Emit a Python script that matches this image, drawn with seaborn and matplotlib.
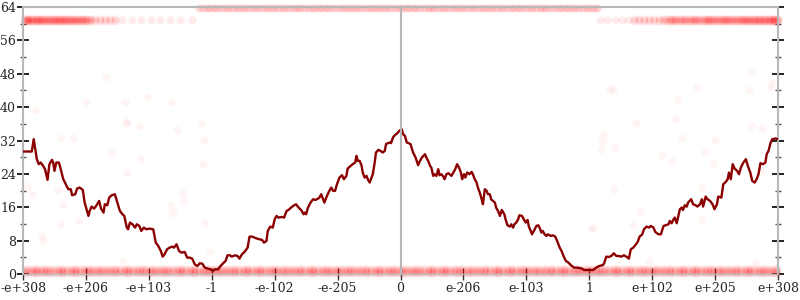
import matplotlib
matplotlib.use("Agg")
import matplotlib.pyplot as plt
from matplotlib.ticker import MultipleLocator
import seaborn as sns

sns.set_style("white")
plt.rcParams['font.family'] = ['DejaVu Serif']

# ---------------- data ----------------
tick_pos = [-6, -5, -4, -3, -2, -1, 0, 1, 2, 3, 4, 5, 6]
tick_labels = ["-e+308", "-e+206", "-e+103", "-1", "-e-102", "-e-205", "0",
               "e-206", "e-103", "1", "e+102", "e+205", "e+308"]

line_x = [
    -6.00, -5.86, -5.83, -5.78, -5.75, -5.72, -5.68, -5.65, -5.61, -5.58, -5.54, -5.52, -5.50, -5.47,
    -5.43, -5.40, -5.36, -5.32, -5.28, -5.24, -5.22, -5.17, -5.14, -5.10, -5.05, -5.02, -4.96, -4.94,
    -4.91, -4.87, -4.83, -4.79, -4.76, -4.72, -4.70, -4.66, -4.63, -4.59, -4.54, -4.50, -4.46, -4.42,
    -4.39, -4.35, -4.33, -4.30, -4.26, -4.22, -4.19, -4.15, -4.12, -4.08, -4.04, -3.99, -3.93, -3.89,
    -3.85, -3.81, -3.78, -3.75, -3.71, -3.67, -3.63, -3.60, -3.56, -3.52, -3.48, -3.43, -3.39, -3.35,
    -3.31, -3.27, -3.23, -3.19, -3.15, -3.11, -3.06, -3.02, -2.98, -2.95,
    -2.90, -2.86, -2.82, -2.78, -2.75, -2.71, -2.68, -2.63, -2.59, -2.56, -2.52, -2.48, -2.43, -2.40,
    -2.36, -2.32, -2.28, -2.24, -2.20, -2.17, -2.13, -2.11, -2.07, -2.03, -2.00, -1.97, -1.94, -1.89,
    -1.85, -1.81, -1.78, -1.74, -1.69, -1.66, -1.62, -1.58, -1.54, -1.52, -1.50, -1.47, -1.43, -1.39,
    -1.35, -1.31, -1.29, -1.26, -1.23, -1.21, -1.18, -1.14, -1.10, -1.07, -1.04, -1.01, -0.97, -0.93,
    -0.90, -0.86, -0.84, -0.79, -0.76, -0.72, -0.70, -0.68, -0.65, -0.62, -0.60, -0.57, -0.54, -0.52,
    -0.49, -0.47, -0.44, -0.41, -0.39, -0.35, -0.32, -0.28, -0.25, -0.23, -0.20, -0.17, -0.15, -0.12,
    -0.10, -0.07, -0.04, -0.02,
    0.02, 0.04, 0.07, 0.10, 0.13, 0.16, 0.20, 0.24, 0.28, 0.31, 0.34, 0.39, 0.41, 0.44, 0.47, 0.49,
    0.52, 0.54, 0.57, 0.60, 0.62, 0.65, 0.68, 0.70, 0.73, 0.76, 0.78, 0.81, 0.84, 0.87, 0.90, 0.93,
    0.96, 0.98, 1.01, 1.03, 1.06, 1.10, 1.13, 1.15, 1.18, 1.21, 1.23, 1.26, 1.29, 1.31, 1.34, 1.37,
    1.39, 1.42, 1.44, 1.47, 1.50, 1.52, 1.55, 1.58, 1.61, 1.65, 1.67, 1.70, 1.74, 1.76, 1.79, 1.81,
    1.84, 1.87, 1.89, 1.93, 1.96, 1.99, 2.02, 2.04, 2.07, 2.09, 2.12, 2.16, 2.19, 2.21, 2.24, 2.26,
    2.29, 2.32, 2.34, 2.39, 2.42, 2.46, 2.49, 2.53, 2.56, 2.58, 2.61, 2.63, 2.67, 2.71, 2.76, 2.81,
    2.87, 2.92, 2.97, 3.01,
    3.06, 3.11, 3.16, 3.22, 3.24, 3.27, 3.31, 3.35, 3.39, 3.43, 3.47, 3.51, 3.55, 3.59, 3.63, 3.66,
    3.70, 3.73, 3.77, 3.80, 3.84, 3.87, 3.91, 3.95, 3.98, 4.02, 4.05, 4.10, 4.14, 4.18, 4.21, 4.26,
    4.28, 4.31, 4.34, 4.36, 4.39, 4.41, 4.44, 4.47, 4.49, 4.52, 4.55, 4.57, 4.62, 4.65, 4.69, 4.72,
    4.76, 4.79, 4.81, 4.85, 4.88, 4.92, 4.96, 4.99, 5.03, 5.05, 5.10, 5.13, 5.17, 5.20, 5.22, 5.25,
    5.28, 5.31, 5.35, 5.38, 5.41, 5.45, 5.49, 5.52, 5.56, 5.59, 5.63, 5.66, 5.69, 5.72, 5.76, 5.80,
    5.82, 5.85, 5.88, 5.91, 5.96, 6.00,
]
line_y = [
    29.36, 29.36, 32.32, 27.52, 26.32, 26.72, 25.92, 25.12, 22.56, 26.32, 27.36, 26.72, 24.72, 26.72,
    26.72, 25.12, 22.72, 21.52, 20.32, 20.32, 18.88, 19.12, 20.48, 20.72, 20.16, 17.12, 13.92, 15.12,
    16.16, 15.68, 16.48, 17.52, 15.68, 14.72, 16.72, 16.48, 18.32, 18.88, 19.12, 17.12, 15.12, 14.32,
    13.92, 11.12, 10.72, 12.32, 11.92, 11.12, 11.92, 11.52, 10.32, 11.12, 10.72, 10.88, 10.72, 7.52,
    6.72, 5.52, 4.16, 4.72, 5.92, 6.32, 6.56, 6.32, 7.12, 5.52, 5.12, 5.28, 3.92, 3.92,
    3.68, 2.32, 1.92, 2.56, 2.48, 1.52, 1.28, 1.12, 0.72, 1.12,
    1.12, 1.92, 2.56, 3.12, 4.48, 4.48, 4.16, 4.48, 4.32, 3.68, 4.72, 5.28, 6.32, 8.96,
    8.96, 8.72, 8.48, 8.32, 8.16, 7.52, 7.92, 10.32, 11.36, 11.12, 13.12, 13.92, 13.52, 13.68,
    13.52, 15.12, 15.36, 15.92, 16.48, 16.72, 15.92, 15.36, 14.32, 14.72, 14.32, 15.92, 17.12, 17.92,
    17.76, 18.08, 18.32, 19.12, 17.92, 17.12, 18.32, 19.68, 20.72, 19.92, 19.92, 21.52, 23.12, 23.68,
    22.72, 23.52, 25.28, 25.92, 26.32, 26.72, 28.32, 27.12, 27.12, 26.08, 24.32, 23.12, 23.52, 22.72,
    21.92, 22.72, 23.92, 26.72, 29.12, 29.76, 29.52, 29.12, 29.52, 31.12, 31.36, 31.52, 31.36, 32.72,
    33.12, 33.52, 33.92, 34.32,
    34.72, 33.52, 33.12, 31.52, 31.36, 31.12, 29.12, 27.92, 26.08, 27.12, 27.92, 28.72, 27.92, 27.12, 25.92, 25.52,
    23.52, 23.92, 23.52, 25.12, 23.68, 23.92, 23.36, 22.72, 23.92, 24.16, 23.92, 23.52, 24.32, 25.12, 26.32, 25.52,
    24.32, 22.72, 23.92, 23.12, 24.32, 23.92, 24.48, 23.92, 22.72, 21.92, 20.72, 19.52, 17.92, 16.72, 20.32, 19.92,
    19.12, 19.12, 17.92, 17.52, 17.12, 15.92, 15.12, 13.92, 15.36, 14.32, 13.12, 11.68, 11.36, 11.92, 11.12, 11.92,
    12.32, 13.12, 14.08, 13.92, 13.12, 12.32, 12.96, 11.36, 10.32, 9.52, 10.32, 11.52, 11.68, 11.12, 9.92, 10.32,
    9.52, 9.12, 9.52, 9.12, 9.28, 8.96, 7.92, 6.32, 5.52, 4.72, 3.68, 3.12, 2.72, 2.08, 1.52, 1.52,
    1.36, 0.96, 0.96, 0.96,
    0.96, 1.52, 1.92, 2.16, 2.72, 4.16, 4.08, 4.32, 4.96, 4.32, 4.32, 4.16, 4.48, 4.16, 3.68, 5.92,
    6.32, 6.88, 7.68, 8.96, 9.44, 10.72, 11.36, 11.12, 11.52, 11.12, 10.08, 9.52, 9.52, 11.52, 11.68, 11.92,
    12.72, 12.16, 13.12, 13.52, 12.16, 13.52, 15.52, 15.92, 15.36, 16.48, 16.16, 17.12, 17.92, 16.72, 16.48, 16.16,
    16.72, 17.92, 16.16, 18.56, 17.92, 17.52, 16.72, 15.52, 16.72, 18.56, 18.32, 21.52, 22.08, 22.72, 24.32, 22.72,
    26.32, 25.28, 24.72, 23.92, 25.52, 26.72, 27.52, 25.92, 24.32, 22.32, 21.92, 22.72, 23.92, 26.56, 26.32, 26.72,
    28.72, 29.52, 31.36, 32.32, 32.48, 32.32,
]

# dense translucent bands of points
bottom_low_x = [
    -5.97, -5.86, -5.78, -5.66, -5.57, -5.45, -5.36, -5.24, -5.15, -5.03, -4.94, -4.82, -4.73, -4.61,
    -4.52, -4.40, -4.31, -4.19, -4.10, -3.98, -3.89, -3.77, -3.68, -3.56, -3.47, -3.35, -3.26, -3.14,
    -3.05, -2.93, -2.84, -2.72, -2.63, -2.51, -2.42, -2.30, -2.21, -2.09, -2.00, -1.88, -1.79, -1.67,
    -1.58, -1.46, -1.37, -1.25, -1.16, -1.04, -0.95, -0.83, -0.74, -0.62, -0.53, -0.41, -0.32, -0.20,
    -0.11, 0.01, 0.10, 0.22, 0.31, 0.43, 0.52, 0.64, 0.73, 0.85, 0.94, 1.06, 1.15, 1.27, 1.36, 1.48,
    1.57, 1.69, 1.78, 1.90, 1.99, 2.11, 2.20, 2.32, 2.41, 2.53, 2.62, 2.74, 2.83, 2.95, 3.04, 3.16,
    3.25, 3.37, 3.46, 3.58, 3.67, 3.79, 3.88, 4.00, 4.09, 4.21, 4.30, 4.42, 4.51, 4.63, 4.72, 4.84,
    4.93, 5.05, 5.14, 5.26, 5.35, 5.47, 5.56, 5.68, 5.77, 5.89, 5.98,
]
bottom_high_x = [
    -5.92, -5.81, -5.71, -5.62, -5.50, -5.40, -5.30, -5.19, -5.09, -4.98, -4.88, -4.77, -4.67, -4.56,
    -4.46, -4.35, -4.25, -4.14, -4.04, -3.93, -3.83, -3.72, -3.62, -3.51, -3.41, -3.30, -3.20, -3.09,
    -2.99, -2.88, -2.78, -2.67, -2.57, -2.46, -2.36, -2.25, -2.15, -2.04, -1.94, -1.83, -1.73, -1.62,
    -1.52, -1.41, -1.31, -1.20, -1.10, -0.99, -0.89, -0.78, -0.68, -0.57, -0.47, -0.36, -0.26, -0.15,
    -0.05, 0.06, 0.16, 0.27, 0.37, 0.48, 0.58, 0.69, 0.79, 0.90, 1.00, 1.11, 1.21, 1.32, 1.42, 1.53,
    1.63, 1.74, 1.84, 1.95, 2.05, 2.16, 2.26, 2.37, 2.47, 2.58, 2.68, 2.79, 2.89, 3.00, 3.10, 3.21,
    3.31, 3.42, 3.52, 3.63, 3.73, 3.84, 3.94, 4.05, 4.15, 4.26, 4.36, 4.47, 4.57, 4.68, 4.78, 4.89,
    4.99, 5.10, 5.20, 5.31, 5.41, 5.52, 5.62, 5.73, 5.83, 5.94,
]
bottom_rows_y = [0.25, 0.75, 1.25]

top_left_x = [
    -5.98, -5.94, -5.90, -5.85, -5.80, -5.76, -5.71, -5.66, -5.61, -5.56, -5.51, -5.46, -5.41, -5.36,
    -5.31, -5.26, -5.21, -5.16, -5.10, -5.04, -4.98, -4.92, -4.85, -4.78, -4.70, -4.62, -4.53,
]
top_left_x2 = [
    -5.96, -5.92, -5.87, -5.83, -5.78, -5.73, -5.68, -5.63, -5.58, -5.53, -5.48, -5.43, -5.38, -5.33,
    -5.28, -5.23, -5.18, -5.13, -5.07, -5.01, -4.95,
]
top_left_sparse_x = [-4.42, -4.27, -4.12, -3.97, -3.82, -3.66, -3.50, -3.32]
top_right_x = [
    3.71, 3.79, 3.87, 3.95, 4.03, 4.11, 4.18, 4.26, 4.33, 4.40, 4.47, 4.54, 4.61, 4.68, 4.75, 4.82,
    4.88, 4.94, 5.00, 5.06, 5.12, 5.18, 5.24, 5.30, 5.36, 5.42, 5.48, 5.53, 5.59, 5.64, 5.70, 5.75,
    5.80, 5.85, 5.90, 5.94, 5.98,
]
top_right_x2 = [
    4.22, 4.30, 4.37, 4.44, 4.51, 4.58, 4.65, 4.72, 4.79, 4.85, 4.91, 4.97, 5.03, 5.09, 5.15, 5.21,
    5.27, 5.33, 5.39, 5.45, 5.51, 5.56, 5.62, 5.67, 5.72, 5.77, 5.82, 5.87, 5.92, 5.96, 6.00,
]
top_right_sparse_x = [3.17, 3.29, 3.41, 3.52, 3.62]
top_side_rows_y = [60.6, 61.1]
top_side_sparse_y = 60.9

top_mid_x = [
    -3.20, -3.08, -2.97, -2.85, -2.74, -2.62, -2.51, -2.39, -2.28, -2.16, -2.05, -1.93, -1.82, -1.70,
    -1.59, -1.47, -1.36, -1.24, -1.13, -1.01, -0.90, -0.78, -0.67, -0.55, -0.44, -0.32, -0.21, -0.09,
    0.02, 0.14, 0.25, 0.37, 0.48, 0.60, 0.71, 0.83, 0.94, 1.06, 1.17, 1.29, 1.40, 1.52, 1.63, 1.75,
    1.86, 1.98, 2.09, 2.21, 2.32, 2.44, 2.55, 2.67, 2.78, 2.90, 3.01, 3.13,
]
top_mid_x2 = [
    -3.14, -3.02, -2.91, -2.79, -2.68, -2.56, -2.45, -2.33, -2.22, -2.10, -1.99, -1.87, -1.76, -1.64,
    -1.53, -1.41, -1.30, -1.18, -1.07, -0.95, -0.84, -0.72, -0.61, -0.49, -0.38, -0.26, -0.15, -0.03,
    0.08, 0.20, 0.31, 0.43, 0.54, 0.66, 0.77, 0.89, 1.00, 1.12, 1.23, 1.35, 1.46, 1.58, 1.69, 1.81,
    1.92, 2.04, 2.15, 2.27, 2.38, 2.50, 2.61, 2.73, 2.84, 2.96, 3.07,
]
top_mid_y = 63.7

# faint scattered points
faint_x = [-4.35, -4.14, -3.15, -3.56, -5.39, -5.21, -3.13, -4.59, -4.12, -3.14, -4.34, -5.94, -5.86,
           -5.44, -3.45, -3.44, -3.64, -3.61, -5.37, -5.11, -5.39, -3.11, -5.70, -5.69, -3.03, -4.41,
           3.74, 4.36, 3.24, 3.20, 3.19, 3.41, 4.16, 4.31, 4.47, 5.00, 4.84, 4.97, 5.59, 5.74, 5.74,
           3.39, 4.79, 3.80, 4.79, 3.70, 3.03, 3.95, 5.63, -5.79, -5.00, -4.38, -3.64, -4.36, -4.68,
           -4.01, 5.57, 4.71, 3.33, 3.38, 5.54, 5.90, 5.88, 4.41, 3.06]
faint_y = [36.5, 35.5, 36.2, 34.6, 32.7, 32.5, 32.2, 29.0, 27.5, 26.3, 24.3, 21.1, 19.1,
           20.2, 19.5, 17.5, 16.5, 14.6, 16.5, 12.7, 11.9, 12.2, 9.1, 7.9, 5.3, 3.1,
           36.2, 37.1, 33.5, 31.9, 29.9, 30.1, 28.5, 27.1, 32.7, 32.2, 29.3, 26.6, 35.5, 34.9, 24.7,
           20.3, 20.5, 14.9, 13.3, 11.7, 10.9, 3.1, 2.7, 39.2, 41.3, 41.3, 41.3, 36.3, 47.2,
           42.4, 48.5, 44.8, 44.3, 44.2, 44.2, 45.8, 44.7, 42.0, 11.0]

# ---------------- figure ----------------
fig = plt.figure(figsize=(8, 3), dpi=100)
ax = fig.add_axes([23 / 800, 26 / 300, 755 / 800, 267 / 300])

pt_kw = dict(color="#ff0000", s=34, linewidth=0, legend=False, ax=ax)
sns.scatterplot(x=faint_x, y=faint_y, alpha=0.04, **pt_kw)
for yy in bottom_rows_y:
    for xs in (bottom_low_x, bottom_high_x):
        sns.scatterplot(x=xs, y=[yy] * len(xs), alpha=0.09, **pt_kw)
for yy in top_side_rows_y:
    for xs in (top_left_x, top_left_x2, top_right_x, top_right_x2):
        sns.scatterplot(x=xs, y=[yy] * len(xs), alpha=0.09, **pt_kw)
for xs in (top_left_sparse_x, top_right_sparse_x):
    sns.scatterplot(x=xs, y=[top_side_sparse_y] * len(xs), alpha=0.08, **pt_kw)
for xs in (top_mid_x, top_mid_x2):
    sns.scatterplot(x=xs, y=[top_mid_y] * len(xs), alpha=0.14, **pt_kw)
for c in ax.collections:
    c.set_clip_on(False)

sns.lineplot(x=line_x, y=line_y, sort=False, estimator=None, color="#8b0000",
             linewidth=1.7, ax=ax, zorder=5)

ax.set_xlim(-6, 6)
ax.set_ylim(0, 64)
ax.set_xticks(tick_pos)
# first label is drawn separately so that it stays inside the canvas
ax.set_xticklabels([""] + tick_labels[1:])
ax.yaxis.set_major_locator(MultipleLocator(8))
ax.yaxis.set_minor_locator(MultipleLocator(4))

ax.tick_params(axis="y", which="major", direction="inout", length=8, width=1.2,
               color="black", left=True, right=True, labelleft=True, labelright=False,
               labelsize=9, pad=1)
ax.tick_params(axis="y", which="minor", direction="inout", length=4, width=1,
               color="#555555", left=True, right=True)
ax.tick_params(axis="x", which="major", direction="inout", length=8, width=1,
               color="#333333", bottom=True, labelsize=9, pad=2)
for s in ax.spines.values():
    s.set_color("#b8b8b8")
    s.set_linewidth(1.5)
ax.spines["bottom"].set_linewidth(1.0)
ax.set_xlabel("")
ax.set_ylabel("")
ax.grid(False)

ax.annotate(tick_labels[0], xy=(0, 0), xycoords="axes fraction",
            xytext=(-16.0, -6.0), textcoords="offset points",
            ha="left", va="top", fontsize=9, annotation_clip=False)

# centre axis at x = 0
cax = ax.inset_axes([0.5, 0, 0.0001, 1])
cax.set_ylim(0, 64)
cax.patch.set_visible(False)
for k in ["top", "right", "bottom"]:
    cax.spines[k].set_visible(False)
cax.spines["left"].set_color("#b8b8b8")
cax.spines["left"].set_linewidth(1.5)
cax.set_xticks([])
cax.yaxis.set_major_locator(MultipleLocator(8))
cax.yaxis.set_minor_locator(MultipleLocator(4))
cax.tick_params(axis="y", which="major", direction="inout", length=8, width=1.2,
                color="black", labelleft=False)
cax.tick_params(axis="y", which="minor", direction="inout", length=4, width=1,
                color="#555555")

fig.savefig("out.png", dpi=100)
